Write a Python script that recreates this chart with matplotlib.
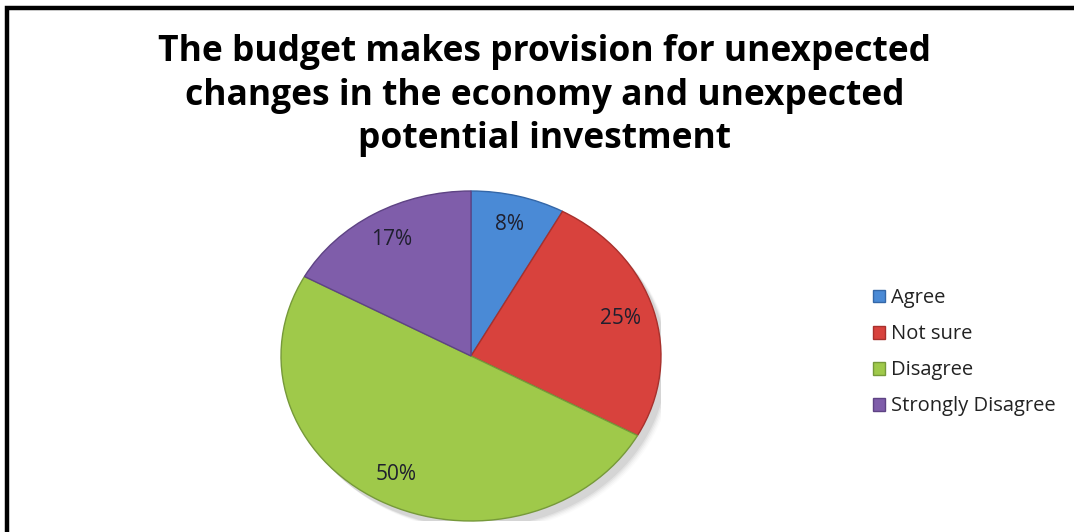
import matplotlib
matplotlib.use("Agg")
from matplotlib import pyplot as plt
from matplotlib.patches import Rectangle, Ellipse
import numpy as np

title = "The budget makes provision for unexpected\nchanges in the economy and unexpected\npotential investment"
categories = ["Agree", "Not sure", "Disagree", "Strongly Disagree"]
shares = [8, 25, 50, 17]
colors = ["#4a8ad6", "#d8423d", "#9fc94a", "#7f5daa"]
edges = ["#3467a8", "#a8302c", "#76993a", "#5e4384"]

plt.rcParams["font.family"] = ["Open Sans", "DejaVu Sans"]

W, H = 1074, 532
fig = plt.figure(figsize=(W / 100, H / 100), dpi=100)
fig.patch.set_facecolor("white")

# thick black frame, right and bottom run off the canvas
fig.patches.append(Rectangle((7 / W, -0.1), 1.2, (H - 8) / H + 0.1,
                             transform=fig.transFigure, fill=False,
                             edgecolor="black", linewidth=3.2))

fig.text(545 / W, (H - 148) / H, title, ha="center", va="baseline",
         fontsize=25.5, fontweight="bold", linespacing=1.27)

# pie axes: elliptical pie stretched to the box
cx, cy, rx, ry = 471, 356, 190, 165
ax = fig.add_axes([(cx - rx) / W, (H - cy - ry) / H, 2 * rx / W, 2 * ry / H])
ax.set_xlim(-1, 1)
ax.set_ylim(-1, 1)

# soft drop shadow
for i, a in enumerate(np.linspace(0.05, 0.015, 5)):
    ax.add_patch(Ellipse((0.03 + i * 0.006, -0.04 - i * 0.006), 2.0, 2.0,
                         facecolor="black", alpha=a, edgecolor="none", zorder=0))

wedges, texts, autotexts = ax.pie(
    shares, colors=colors, startangle=90, counterclock=False,
    autopct="%d%%", pctdistance=0.82, radius=1.0,
    wedgeprops=dict(linewidth=1.0),
    textprops=dict(fontsize=15, color="#1f1f2e"))
for w, e in zip(wedges, edges):
    w.set_edgecolor(e)
    w.set_zorder(2)
ax.set_aspect("auto")
ax.set_xlim(-1.0, 1.0)
ax.set_ylim(-1.0, 1.0)
ax.axis("off")

leg = fig.legend(wedges, categories, loc="upper left",
                 bbox_to_anchor=(855 / W, (H - 270) / H), frameon=False,
                 fontsize=14.5, handlelength=0.6, handleheight=0.6,
                 handletextpad=0.3, labelspacing=0.8)
for t in leg.get_texts():
    t.set_color("#222222")

fig.savefig("out.png", dpi=100)
